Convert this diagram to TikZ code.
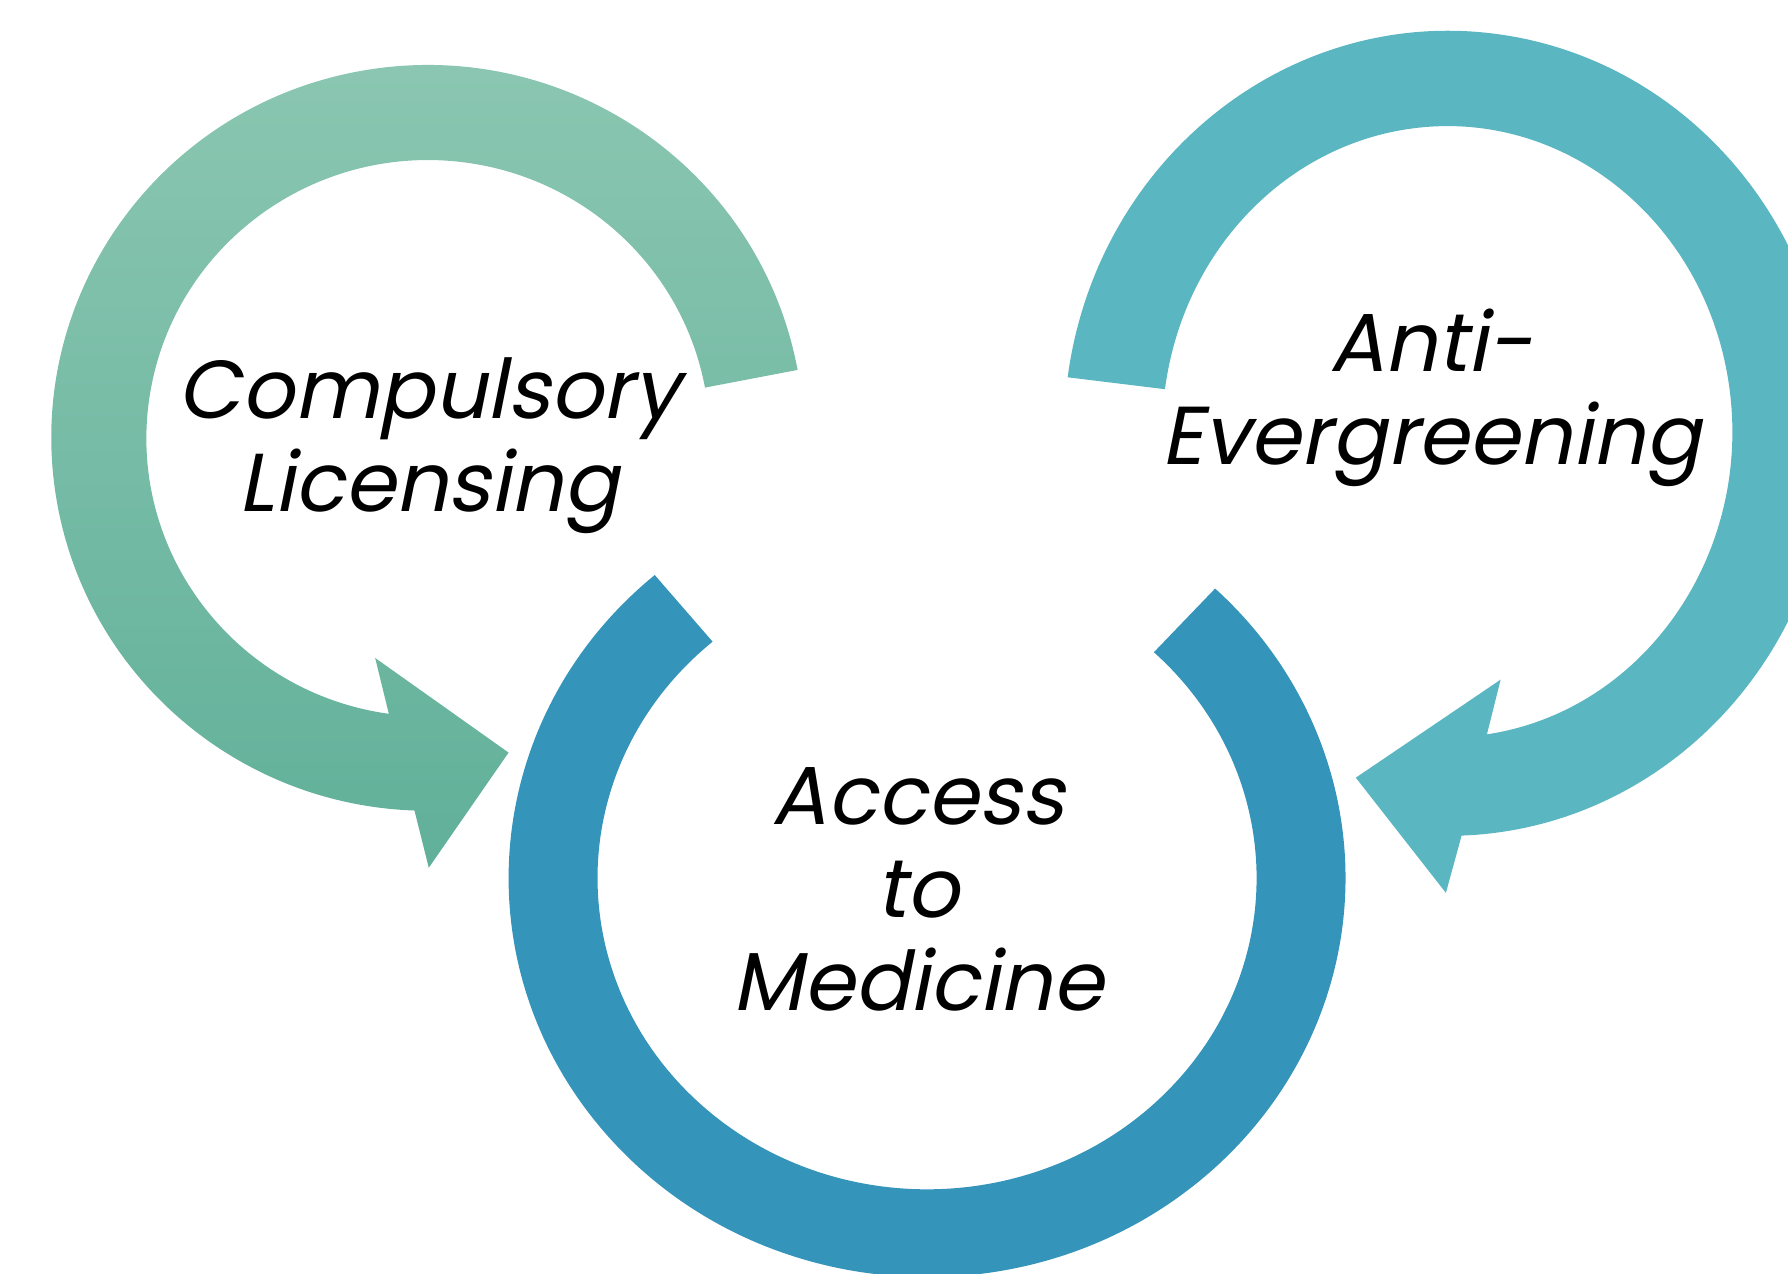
\documentclass[tikz,border=0pt]{standalone}
\usepackage{fontspec}
\newfontfamily\labelfont{Poppins}[FakeSlant=0.2]
\usetikzlibrary{calc}
\definecolor{greenTop}{HTML}{8CC7B2}
\definecolor{greenBot}{HTML}{61B099}
\definecolor{tealArc}{HTML}{5AB6C0}
\definecolor{blueArc}{HTML}{3594BA}
\begin{document}
\begin{tikzpicture}[x=0.01cm,y=0.01cm,
  label/.style={align=center,font=\fontsize{20.5}{23.3}\selectfont\labelfont,inner sep=0pt}]
\useasboundingbox (0,0) rectangle (1568,1117);
\clip (0,0) rectangle (1568,1117);
% blue ring, open at the top
\fill[blueArc] (813,347) ++(130.6:367 and 350) arc[start angle=130.6,end angle=406.5,x radius=367,y radius=350]
--($(813,347)+(46.5:289 and 273)$) arc[start angle=46.5,end angle=-229.4,x radius=289,y radius=273]--cycle;
% green arrow
\path[top color=greenTop,bottom color=greenBot] (375,733) ++(10.5:330 and 327) arc[start angle=10.5,end angle=268,x radius=330,y radius=327]
--(376,356)--(446,457)--(329,540)--(341,491) arc[start angle=262,end angle=10.5,x radius=247,y radius=244]--cycle;
% teal arrow
\fill[tealArc] (1270,737) ++(172:337 and 353) arc[start angle=172,end angle=-88,x radius=337,y radius=353]
--(1268,334)--(1189,435)--(1316,521)--(1304,473) arc[start angle=-82,end angle=172,x radius=250,y radius=268]--cycle;
\node[label] (compulsory) at (376,726) {Compulsory\\Licensing};
\node[label] (evergreen) at (1255,768) {Anti-\\Evergreening};
\node[label] (access) at (805,337) {Access\\to\\Medicine};
\end{tikzpicture}
\end{document}
